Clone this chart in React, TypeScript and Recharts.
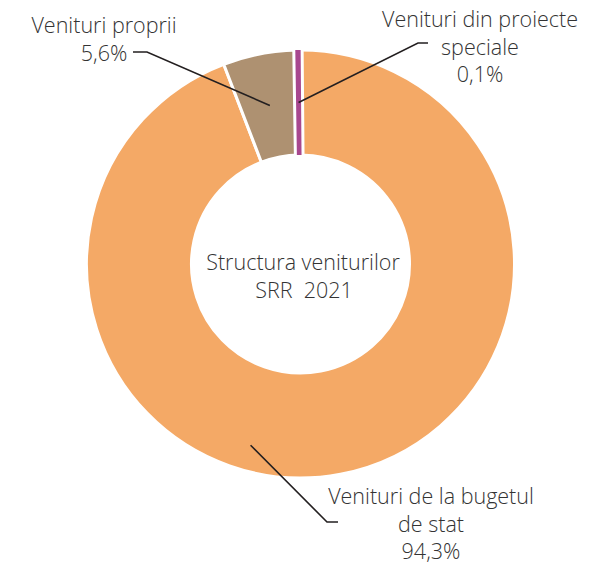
import { PieChart, Pie, Cell } from 'recharts';

const categories = ['Venituri de la bugetul de stat', 'Venituri proprii', 'Venituri din proiecte speciale'];
const shares = [94.3, 5.6, 0.1];
const shareLabels = ['94,3%', '5,6%', '0,1%'];
const colors = ['#F4A966', '#AE9171', '#A8478F'];

const data = categories.map((name, i) => ({ name, value: shares[i] }));

const FONT = '"Open Sans", sans-serif';
const TEXT = '#333333';
const SIZE = 21.5;

// label layout per slice: anchor on slice, elbow, end of short horizontal, text block
const labelLayout = [
  { anchorAngle: 254.6, anchorR: 188, elbow: [327, 522], end: [338, 522], x: 431, y: 495, lines: ['Venituri de la bugetul', 'de stat'] },
  { elbow: [147, 52], end: [133, 52], x: 104, y: 24, lines: ['Venituri proprii'] },
  { elbow: [418, 43], end: [428, 43], x: 480, y: 18, lines: ['Venituri din proiecte', 'speciale'] },
];

const RAD = Math.PI / 180;

function renderLabel(props: any) {
  const { cx, cy, midAngle, innerRadius, outerRadius, index } = props;
  const l = labelLayout[index];
  const ang = l.anchorAngle ?? midAngle;
  const r = l.anchorR ?? (innerRadius + outerRadius) / 2;
  const sx = cx + r * Math.cos(-ang * RAD);
  const sy = cy + r * Math.sin(-ang * RAD);
  const lines = [...l.lines, shareLabels[index]];
  return (
    <g key={'lbl' + index}>
      <polyline
        points={`${sx},${sy} ${l.elbow[0]},${l.elbow[1]} ${l.end[0]},${l.end[1]}`}
        fill="none"
        stroke="#231F20"
        strokeWidth={1.6}
      />
      <text x={l.x} y={l.y} textAnchor="middle" dominantBaseline="central" fill={TEXT} fontFamily={FONT} fontWeight={300} fontSize={SIZE}>
        {lines.map((t, i) => (
          <tspan key={i} x={l.x} dy={i === 0 ? 0 : 27.5}>{t}</tspan>
        ))}
      </text>
    </g>
  );
}

export default function App() {
  return (
    <div style={{ position: 'absolute', left: 0, top: 0, width: 610, height: 563, background: '#fff' }}>
      <PieChart width={610} height={563}>
        <Pie
          data={data}
          dataKey="value"
          cx={295.5}
          cy={259}
          innerRadius={109}
          outerRadius={214}
          startAngle={90.5}
          endAngle={-269.5}
          isAnimationActive={false}
          labelLine={false}
        >
          {data.map((d, i) => (
            <Cell key={d.name} fill={colors[i]} stroke="#fff" strokeWidth={i === 2 ? 10 : 3} />
          ))}
        </Pie>
        <Pie
          data={data}
          dataKey="value"
          cx={295.5}
          cy={259}
          innerRadius={111}
          outerRadius={212}
          startAngle={90.5}
          endAngle={-269.5}
          isAnimationActive={false}
          labelLine={false}
          label={renderLabel}
        >
          {data.map((d, i) => (
            <Cell key={d.name} fill={i === 2 ? colors[i] : 'none'} stroke={i === 2 ? colors[i] : 'none'} strokeWidth={4} />
          ))}
        </Pie>
        <text x={303} y={261} textAnchor="middle" dominantBaseline="central" fill={TEXT} fontFamily={FONT} fontWeight={300} fontSize={SIZE}>
          Structura veniturilor
        </text>
        <text x={304} y={289} textAnchor="middle" dominantBaseline="central" fill={TEXT} fontFamily={FONT} fontWeight={300} fontSize={SIZE}>
          {'SRR\u00A0 2021'}
        </text>
      </PieChart>
    </div>
  );
}
